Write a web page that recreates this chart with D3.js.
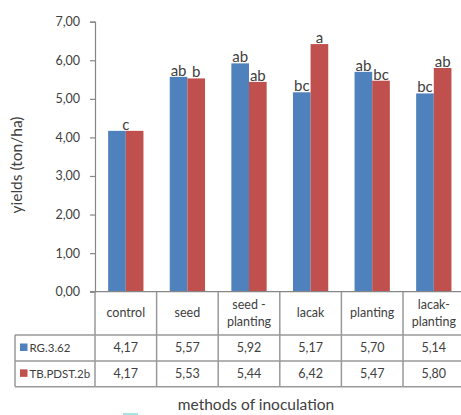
<!DOCTYPE html>
<html>
<head>
<meta charset="utf-8">
<script src="https://cdn.jsdelivr.net/npm/d3@7"></script>
<style>
  body { margin: 0; background: #fff; }
  svg { display: block; }
  text { font-family: Lato, "Open Sans", sans-serif; fill: #404040; }
</style>
</head>
<body>
<div id="chart"></div>
<script>
// data
var methods = [["control"], ["seed"], ["seed -", "planting"], ["lacak"], ["planting"], ["lacak-", "planting"]];
var seriesNames = ["RG.3.62", "TB.PDST.2b"];
var rgValues = [4.17, 5.57, 5.92, 5.17, 5.70, 5.14];
var tbValues = [4.17, 5.53, 5.44, 6.42, 5.47, 5.80];
var rgLetters = ["c", "ab", "ab", "bc", "ab", "bc"];
var tbLetters = ["", "b", "ab", "a", "bc", "ab"];
var yTicks = [0, 1, 2, 3, 4, 5, 6, 7];
var colors = ["#4f81bd", "#c0504d"];

var W = 461, H = 415;
var plotLeft = 95, plotTop = 21.7, plotBottom = 291.7;
var step = 61.6;

var svg = d3.select("#chart").append("svg").attr("width", W).attr("height", H);

var x = d3.scaleBand().domain(d3.range(methods.length))
    .range([plotLeft, plotLeft + step * methods.length]).paddingInner(0.427).paddingOuter(0.2135);
var x1 = d3.scaleBand().domain([0, 1]).range([0, x.bandwidth()]);
var y = d3.scaleLinear().domain([0, 7]).range([plotBottom, plotTop]);

var fmt = function (v) { return d3.format(".2f")(v).replace(".", ","); };

// y axis
var yAxis = d3.axisLeft(y).tickValues(yTicks).tickFormat(fmt).tickSize(5).tickPadding(10);
var ya = svg.append("g").attr("transform", "translate(" + plotLeft + ",0)").call(yAxis);
ya.select(".domain").attr("stroke", "#868686").attr("stroke-width", 1.2);
ya.selectAll(".tick line").attr("stroke", "#868686").attr("stroke-width", 1.2);
ya.selectAll(".tick text").attr("font-size", 12.5).attr("fill", "#404040")
    .style("font-family", "Lato, 'Open Sans', sans-serif");

// y title
svg.append("text").attr("transform", "translate(22,165) rotate(-90)")
    .attr("text-anchor", "middle").attr("font-size", 15.5).text("yields (ton/ha)");

// bars
var series = [rgValues, tbValues];
var letters = [rgLetters, tbLetters];
series.forEach(function (vals, s) {
  svg.selectAll(".bar" + s).data(vals).enter().append("rect")
      .attr("x", function (d, i) { return x(i) + x1(s); })
      .attr("y", function (d) { return y(d); })
      .attr("width", x1.bandwidth())
      .attr("height", function (d) { return plotBottom - y(d); })
      .attr("fill", colors[s]);
});

// letters above bars
series.forEach(function (vals, s) {
  svg.selectAll(".lab" + s).data(vals).enter().append("text")
      .attr("x", function (d, i) {
        if (s == 0 && tbLetters[i] == "") return x(i) + x.bandwidth() / 2;
        return x(i) + x1(s) + x1.bandwidth() / 2;
      })
      .attr("y", function (d) { return y(d) - 1; })
      .attr("text-anchor", "middle").attr("font-size", 15)
      .text(function (d, i) { return letters[s][i]; });
});

// data table
var lineColor = "#999";
var tRow0 = plotBottom, tRow1 = 335, tRow2 = 361, tRow3 = 386.7;
var tLeft = 15;
var plotRight = plotLeft + step * methods.length;

svg.append("line").attr("x1", plotLeft - 5).attr("x2", plotRight).attr("y1", plotBottom).attr("y2", plotBottom)
    .attr("stroke", "#868686").attr("stroke-width", 1.2);
[tRow1, tRow2, tRow3].forEach(function (ry) {
  svg.append("line").attr("x1", tLeft).attr("x2", plotRight).attr("y1", ry).attr("y2", ry)
      .attr("stroke", lineColor).attr("stroke-width", 1.5);
});
svg.append("line").attr("x1", tLeft).attr("x2", tLeft).attr("y1", tRow1).attr("y2", tRow3)
    .attr("stroke", lineColor).attr("stroke-width", 1.5);
svg.selectAll(".col").data(d3.range(methods.length + 1)).enter().append("line")
    .attr("x1", function (d) { return plotLeft + step * d; })
    .attr("x2", function (d) { return plotLeft + step * d; })
    .attr("y1", tRow0).attr("y2", tRow3)
    .attr("stroke", lineColor).attr("stroke-width", 1.5);

// header labels
methods.forEach(function (m, i) {
  var cx = plotLeft + step * i + step / 2;
  var t = svg.append("text").attr("text-anchor", "middle").attr("font-size", 12.5);
  if (m.length == 1) {
    t.append("tspan").attr("x", cx).attr("y", 317).text(m[0]);
  } else {
    t.append("tspan").attr("x", cx).attr("y", 309).text(m[0]);
    t.append("tspan").attr("x", cx).attr("y", 326).text(m[1]);
  }
});

// legend + values rows
var rowY = [(tRow1 + tRow2) / 2, (tRow2 + tRow3) / 2];
seriesNames.forEach(function (name, s) {
  svg.append("rect").attr("x", 20).attr("y", rowY[s] - 4.5).attr("width", 7.5).attr("height", 7.5)
      .attr("fill", colors[s]);
  svg.append("text").attr("x", 29.5).attr("y", rowY[s]).attr("dy", "0.35em")
      .attr("font-size", 11.5).text(name);
  svg.selectAll(".val" + s).data(series[s]).enter().append("text")
      .attr("x", function (d, i) { return plotLeft + step * i + step / 2; })
      .attr("y", rowY[s]).attr("dy", "0.35em")
      .attr("text-anchor", "middle").attr("font-size", 12.5)
      .text(function (d) { return fmt(d); });
});

// x title
svg.append("text").attr("x", 256).attr("y", 410).attr("text-anchor", "middle")
    .attr("font-size", 15.5).text("methods of inoculation");

// small cyan fragment at the bottom edge
svg.append("rect").attr("x", 123).attr("y", 413).attr("width", 15).attr("height", 2)
    .attr("fill", "#a8e4e4");
</script>
</body>
</html>
